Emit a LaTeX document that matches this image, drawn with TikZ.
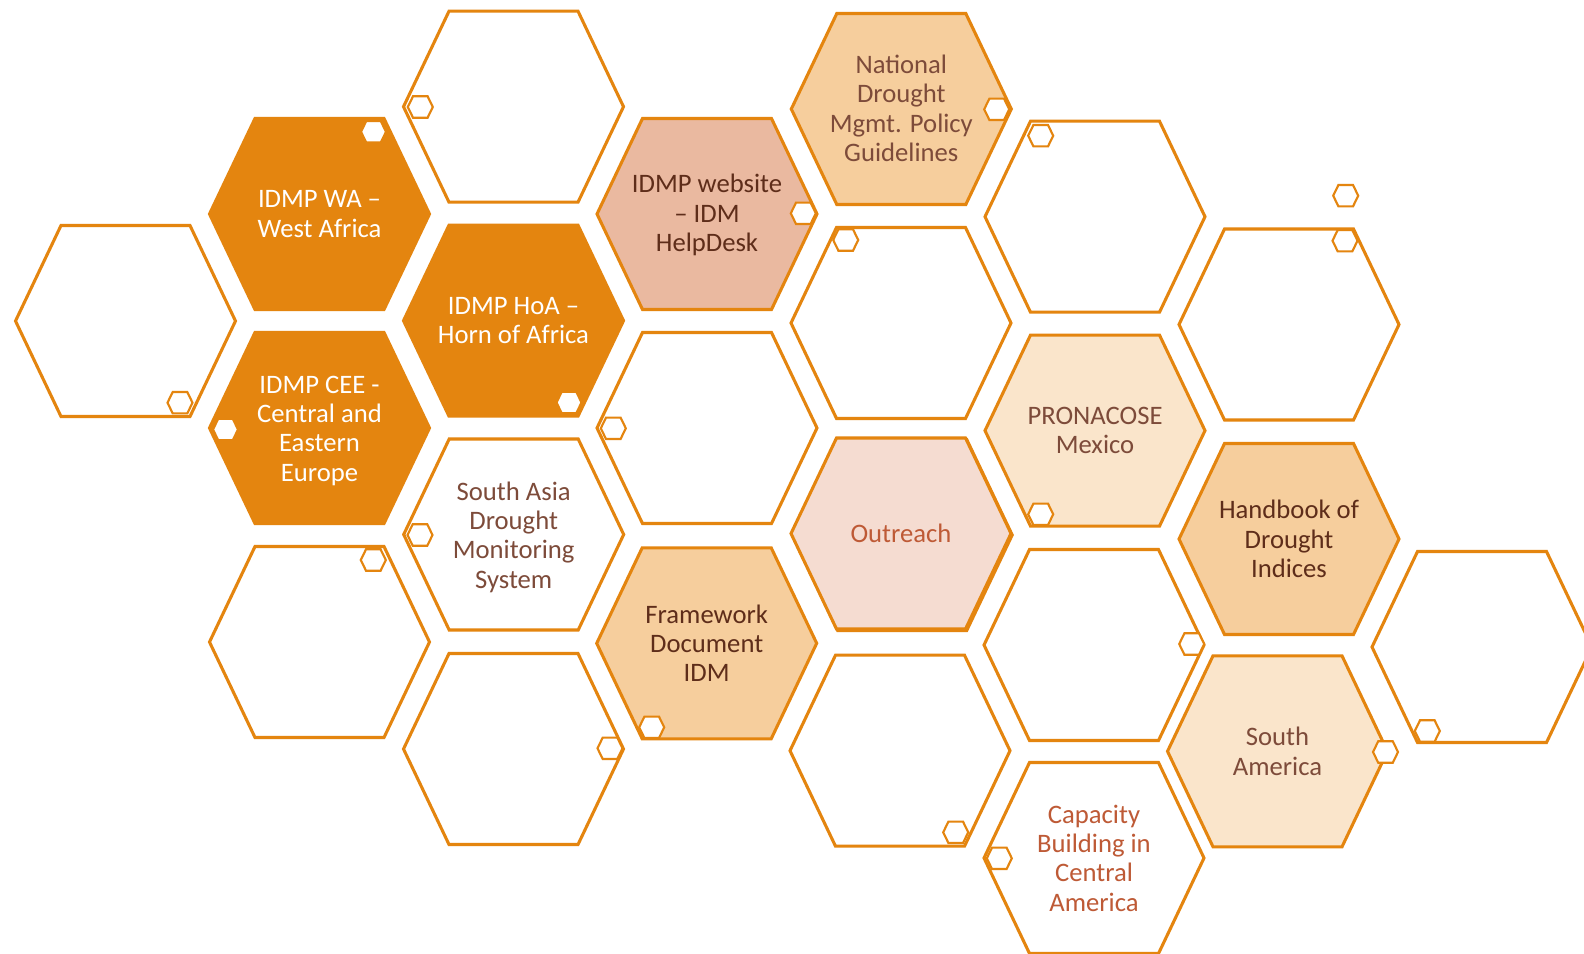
\documentclass[tikz,border=0pt]{standalone}
\usepackage{fontspec}
\setmainfont{Carlito}
\definecolor{hexorange}{HTML}{E4850F}
\definecolor{hexsalmon}{HTML}{EAB9A0}
\definecolor{hexlight}{HTML}{F6CE9D}
\definecolor{hexpale}{HTML}{FAE5CB}
\definecolor{hexpink}{HTML}{F5DCD1}
\definecolor{txtdark}{HTML}{5E2D1A}
\definecolor{txtbrown}{HTML}{7D4B3A}
\definecolor{txtrust}{HTML}{BE5A36}
\tikzset{
  bighexstyle/.style={draw=hexorange, line width=2.3pt, line join=miter},
  smallhexstyle/.style={draw=hexorange, fill=white, line width=1.6pt, line join=miter},
  lbl/.style={align=center, font=\fontsize{20}{22}\selectfont, inner sep=0pt},
}
\newcommand\bighex[3]{\path[bighexstyle,fill=#3,shift={(#1,#2)}] (-110,0) -- (-64.5,-95.5) -- (64.5,-95.5) -- (110,0) -- (64.5,95.5) -- (-64.5,95.5) -- cycle;}
\newcommand\smallhex[2]{\path[smallhexstyle,shift={(#1,#2)}] (-12.5,0) -- (-7.3,-10.7) -- (7.3,-10.7) -- (12.5,0) -- (7.3,10.7) -- (-7.3,10.7) -- cycle;}
\begin{document}
\begin{tikzpicture}[x=0.75pt,y=-0.75pt]
\useasboundingbox (0,0) rectangle (1584,953);
\fill[white] (0,0) rectangle (1584,953);
\clip (0,0) rectangle (1584,953);
% big hexagons
\bighex{125.5}{321}{white}
\bighex{319.5}{214}{hexorange}
\bighex{319.5}{428}{hexorange}
\bighex{319.5}{642}{white}
\bighex{513.5}{106.7}{white}
\bighex{513.5}{320.7}{hexorange}
\bighex{513.7}{534.5}{white}
\bighex{513.5}{749}{white}
\bighex{707}{214}{hexsalmon}
\bighex{707}{428}{white}
\bighex{706.7}{643.3}{hexlight}
\bighex{901.3}{109}{hexlight}
\bighex{901}{323}{white}
\path[bighexstyle,fill=hexorange,shift={(902.2,535)}] (-110,0) -- (-64.5,-95.5) -- (64.5,-95.5) -- (110,0) -- (64.5,95.5) -- (-64.5,95.5) -- cycle;
\bighex{901}{533.5}{hexpink}
\bighex{900}{750.7}{white}
\bighex{1095}{216.7}{white}
\bighex{1095}{430.6}{hexpale}
\bighex{1094}{645}{white}
\bighex{1094}{858}{white}
\bighex{1289}{324.5}{white}
\bighex{1289}{539}{hexlight}
\bighex{1277.5}{751.3}{hexpale}
\bighex{1482}{647}{white}
% small hexagons
\smallhex{420.3}{107}
\smallhex{373.5}{131.8}
\smallhex{569}{402.5}
\smallhex{180}{402.7}
\smallhex{225.5}{429.5}
\smallhex{373.3}{560}
\smallhex{420}{535}
\smallhex{613.3}{428.3}
\smallhex{651.7}{727.3}
\smallhex{610}{748.3}
\smallhex{996.7}{109.3}
\smallhex{803.3}{213.3}
\smallhex{845.7}{240}
\smallhex{1040.7}{135.7}
\smallhex{1345.7}{195.7}
\smallhex{1345}{240.7}
\smallhex{1040.7}{514.3}
\smallhex{1191.7}{644}
\smallhex{1385.5}{752}
\smallhex{955.7}{832.3}
\smallhex{999.3}{858.3}
\smallhex{1427.3}{731}
% labels
\node[lbl,text=white] (wa) at (319.5,214) {IDMP WA –\\West Africa};
\node[lbl,text=white] (cee) at (319.5,430.5) {IDMP CEE -\\Central and\\Eastern\\Europe};
\node[lbl,text=white] (hoa) at (513.5,320.7) {IDMP HoA –\\Horn of Africa};
\node[lbl,text=txtbrown] (sasia) at (513.7,537) {South Asia\\Drought\\Monitoring\\System};
\node[lbl,text=txtdark] (web) at (707,215) {IDMP website\\– IDM\\HelpDesk};
\node[lbl,text=txtdark] (frame) at (706.7,643.3) {Framework\\Document\\IDM};
\node[lbl,text=txtbrown] (natl) at (901.3,108.5) {National\\Drought\\Mgmt. Policy\\Guidelines};
\node[lbl,text=txtrust] (outr) at (901,533.5) {Outreach};
\node[lbl,text=txtbrown] (pron) at (1095,430.6) {PRONACOSE\\Mexico};
\node[lbl,text=txtrust] (capb) at (1094,858) {Capacity\\Building in\\Central\\America};
\node[lbl,text=txtdark] (hand) at (1289,539) {Handbook of\\Drought\\Indices};
\node[lbl,text=txtbrown] (samer) at (1277.5,751.3) {South\\America};
\end{tikzpicture}
\end{document}
